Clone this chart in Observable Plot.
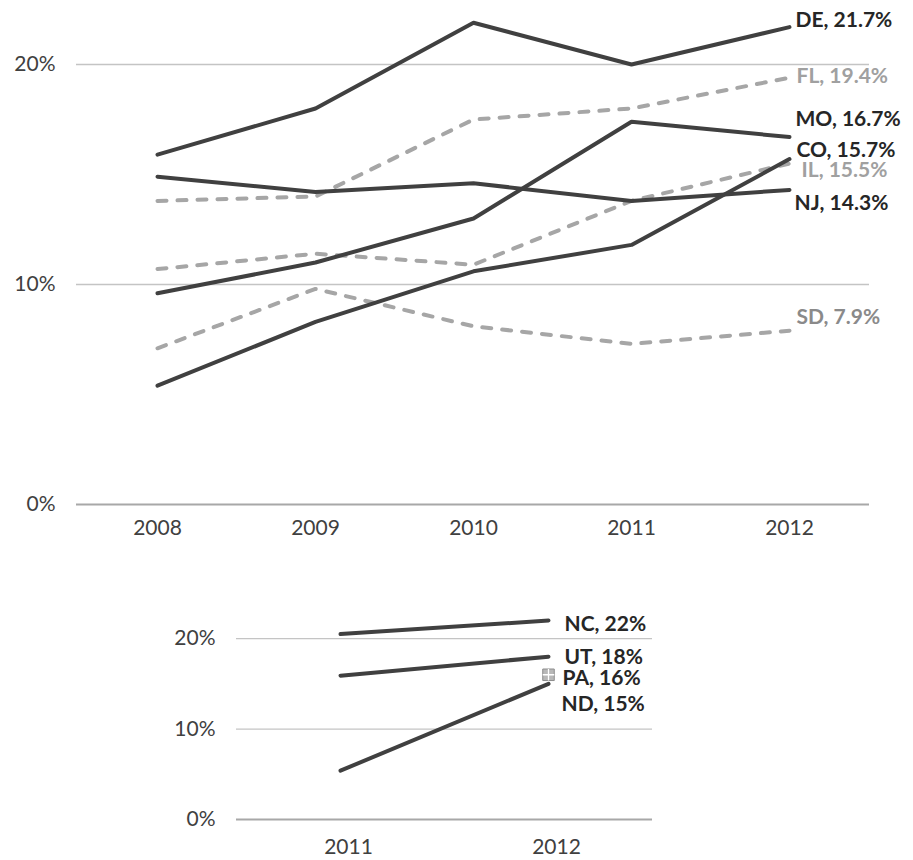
<!DOCTYPE html>
<html>
<head>
<meta charset="utf-8">
<script src="https://cdn.jsdelivr.net/npm/d3@7"></script>
<script src="https://cdn.jsdelivr.net/npm/@observablehq/plot@0.6"></script>
<style>
  html, body { margin: 0; padding: 0; background: #fff; }
  #chart { width: 913px; }
  #chart svg { display: block; }
</style>
</head>
<body>
<div id="chart"></div>
<script>
// Share of residents per state, 2008–2012
const years = [2008, 2009, 2010, 2011, 2012];
const DE = [0.159, 0.180, 0.219, 0.200, 0.217];
const FL = [0.138, 0.140, 0.175, 0.180, 0.194];
const MO = [0.096, 0.110, 0.130, 0.174, 0.167];
const CO = [0.054, 0.083, 0.106, 0.118, 0.157];
const IL = [0.107, 0.114, 0.109, 0.138, 0.155];
const NJ = [0.149, 0.142, 0.146, 0.138, 0.143];
const SD = [0.071, 0.098, 0.081, 0.073, 0.079];

// States with only 2011–2012 figures
const yearsShort = [2011, 2012];
const NC = [0.205, 0.22];
const UT = [0.159, 0.18];
const ND = [0.054, 0.15];
const PA = [null, 0.16];

const yTicks = [0, 0.1, 0.2];

// Drawing styles for each series (dashed = grey dashed line)
const upperSeries = [
  {name: "DE", values: DE, dashed: false, dx: 6, dy: -7},
  {name: "FL", values: FL, dashed: true,  dx: 7, dy: -1},
  {name: "MO", values: MO, dashed: false, dx: 6, dy: -18},
  {name: "CO", values: CO, dashed: false, dx: 7, dy: -9},
  {name: "IL", values: IL, dashed: true,  dx: 12, dy: 7},
  {name: "NJ", values: NJ, dashed: false, dx: 5, dy: 13},
  {name: "SD", values: SD, dashed: true,  dx: 7, dy: -13, labelColor: "#8a8a8a"}
];
const lowerSeries = [
  {name: "NC", values: NC, dx: 16, dy: 4},
  {name: "UT", values: UT, dx: 16, dy: 1},
  {name: "PA", values: PA, dx: 14, dy: 3, marker: true},
  {name: "ND", values: ND, dx: 13, dy: 20}
];

const DARK = "#404040";
const GREY = "#a6a6a6";
const LABEL_DARK = "#262626";
const LABEL_GREY = "#a0a0a0";
const FONT = "Lato, 'Open Sans', sans-serif";
const TICK_SIZE = 21;
const LABEL_SIZE = 21;

function rows(series, xs) {
  return series.flatMap(s => xs.map((x, i) => ({name: s.name, x, v: s.values[i]})).filter(d => d.v != null));
}

function gridMarks() {
  return [
    Plot.ruleY(yTicks.filter(t => t > 0), {stroke: "#c4c4c4", strokeWidth: 1.3}),
    Plot.ruleY([0], {stroke: "#a8a8a8", strokeWidth: 2})
  ];
}

function labelMarks(series, xs, fmt, dashedColor) {
  const last = xs[xs.length - 1];
  return series.map(s => {
    const v = s.values[s.values.length - 1];
    const color = s.labelColor || (s.dashed ? dashedColor : LABEL_DARK);
    return Plot.text([{x: last, v}], {
      x: "x", y: "v",
      text: d => `${s.name}, ${fmt(d.v)}`,
      textAnchor: "start",
      dx: s.dx, dy: s.dy,
      fill: color,
      fontWeight: "bold",
      fontSize: LABEL_SIZE
    });
  });
}

// Upper chart: 2008–2012
const upperRows = rows(upperSeries, years);
const solidNames = new Set(upperSeries.filter(s => !s.dashed).map(s => s.name));
const upperChart = Plot.plot({
  width: 913,
  height: 560,
  marginLeft: 76,
  marginRight: 44,
  marginTop: 20,
  marginBottom: 56,
  style: {fontFamily: FONT, background: "#fff"},
  x: {type: "point", domain: years, padding: 0.5},
  y: {domain: [0, 0.22]},
  marks: [
    ...gridMarks(),
    Plot.axisY({ticks: yTicks, tickFormat: d3.format(".0%"), tickSize: 0, tickPadding: 21, fontSize: TICK_SIZE, fill: DARK, label: null}),
    Plot.axisX({tickSize: 0, tickPadding: 16, fontSize: TICK_SIZE, fill: DARK, label: null, tickFormat: d => String(d)}),
    Plot.line(upperRows.filter(d => !solidNames.has(d.name)), {
      x: "x", y: "v", z: "name", stroke: GREY, strokeWidth: 4,
      strokeDasharray: "9,11", strokeLinecap: "round", strokeLinejoin: "round"
    }),
    Plot.line(upperRows.filter(d => solidNames.has(d.name)), {
      x: "x", y: "v", z: "name", stroke: DARK, strokeWidth: 4,
      strokeLinecap: "round", strokeLinejoin: "round"
    }),
    ...labelMarks(upperSeries, years, d3.format(".1%"), LABEL_GREY)
  ]
});

// Lower chart: 2011–2012
const lowerRows = rows(lowerSeries.filter(s => !s.marker), yearsShort);
const markerRows = rows(lowerSeries.filter(s => s.marker), yearsShort);
const crossSymbol = {
  draw(context, size) {
    const r = Math.sqrt(size) / 2;
    context.moveTo(-r, 0); context.lineTo(r, 0);
    context.moveTo(0, -r); context.lineTo(0, r);
  }
};
const lowerChart = Plot.plot({
  width: 913,
  height: 300,
  marginLeft: 236,
  marginRight: 261,
  marginTop: 60,
  marginBottom: 41,
  style: {fontFamily: FONT, background: "#fff"},
  x: {type: "point", domain: yearsShort, padding: 0.5},
  y: {domain: [0, 0.22]},
  marks: [
    ...gridMarks(),
    Plot.axisY({ticks: yTicks, tickFormat: d3.format(".0%"), tickSize: 0, tickPadding: 21, fontSize: TICK_SIZE, fill: DARK, label: null}),
    Plot.axisX({tickSize: 0, tickPadding: 20, dx: 8, fontSize: TICK_SIZE, fill: DARK, label: null, tickFormat: d => String(d)}),
    Plot.line(lowerRows, {
      x: "x", y: "v", z: "name", stroke: DARK, strokeWidth: 4,
      strokeLinecap: "round", strokeLinejoin: "round"
    }),
    Plot.dot(markerRows, {x: "x", y: "v", symbol: "square", r: 6.5, fill: "#b8b8b8", stroke: "#8c8c8c", strokeWidth: 1}),
    Plot.dot(markerRows, {x: "x", y: "v", symbol: crossSymbol, r: 6.5, fill: "none", stroke: "#fff", strokeWidth: 1.3}),
    ...labelMarks(lowerSeries, yearsShort, d3.format(".0%"), LABEL_GREY)
  ]
});

document.getElementById("chart").append(upperChart, lowerChart);
</script>
</body>
</html>
